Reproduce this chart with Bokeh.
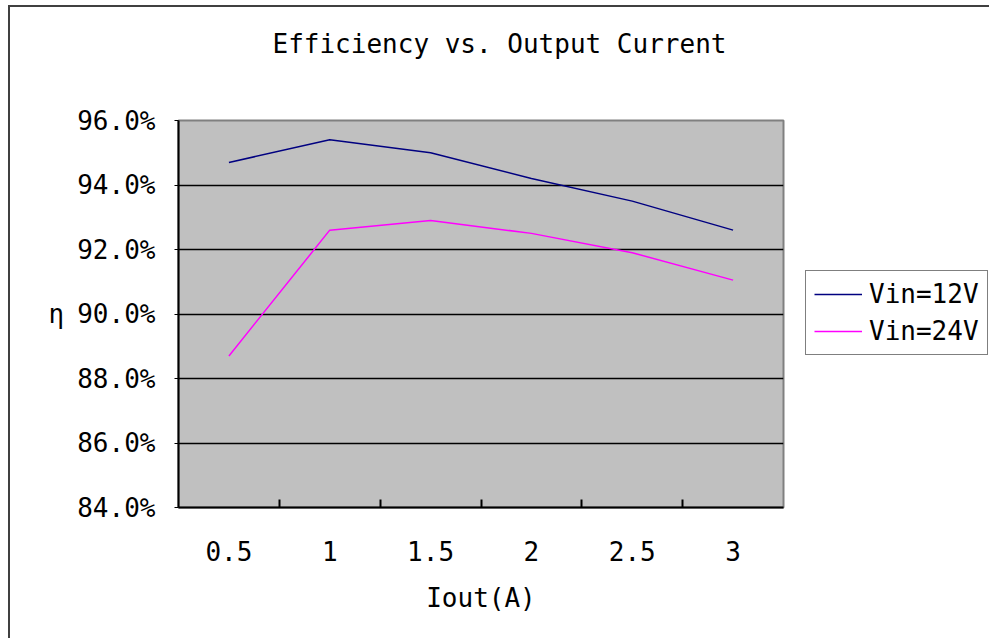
import numpy as np
from bokeh.plotting import figure
from bokeh.models import (Range1d, FixedTicker, PrintfTickFormatter, Legend, LegendItem)
from bokeh.embed import file_html
from bokeh.resources import INLINE

# ---- data ----
x_labels = ["0.5", "1", "1.5", "2", "2.5", "3"]
eff_12v = [94.7, 95.4, 95.0, 94.2, 93.5, 92.6]
eff_24v = [88.7, 92.6, 92.9, 92.5, 91.9, 91.05]
y_ticks = [84, 86, 88, 90, 92, 94, 96]
series_names = ["Vin=12V", "Vin=24V"]
title_text = "Efficiency vs. Output Current"

FONT = "DejaVu Sans Mono"

n = len(x_labels)
x_pos = list(np.arange(n) + 0.5)
boundaries = list(np.arange(1, n))

p = figure(frame_width=605, frame_height=387,
           min_border_left=168, min_border_right=206,
           min_border_top=113, min_border_bottom=131,
           x_range=Range1d(0, n), y_range=Range1d(y_ticks[0], y_ticks[-1]),
           output_backend="svg", toolbar_location=None,
           background_fill_color="#C0C0C0", border_fill_color="white",
           outline_line_color="#808080", outline_line_width=2)

p.styles = {"margin-left": "8px", "margin-top": "5px",
            "border-left": "2px solid #404040", "border-top": "2px solid #404040"}

# trailing blank lines only reserve vertical space above the frame
p.title.text = title_text + "\n\n"
p.title.align = "left"
p.title.offset = 94
p.title.vertical_align = "top"
p.title.standoff = 0
p.title.text_font = FONT
p.title.text_font_size = "26px"
p.title.text_font_style = "normal"
p.title.text_color = "#000000"

# x axis
xa = p.xaxis[0]
xa.ticker = FixedTicker(ticks=x_pos, minor_ticks=boundaries)
xa.major_label_overrides = {float(v): lab for v, lab in zip(x_pos, x_labels)}
xa.major_tick_in = 0
xa.major_tick_out = 0
xa.minor_tick_in = 8
xa.minor_tick_out = 0
xa.minor_tick_line_color = "black"
xa.minor_tick_line_width = 2
xa.axis_line_color = "black"
xa.axis_line_width = 2
xa.major_label_standoff = 33
xa.major_label_text_font = FONT
xa.major_label_text_font_size = "26px"
xa.major_label_text_color = "black"
xa.axis_label = "Iout(A)"
xa.axis_label_text_font = FONT
xa.axis_label_text_font_size = "26px"
xa.axis_label_text_font_style = "normal"
xa.axis_label_text_color = "black"
xa.axis_label_standoff = 19

# y axis
ya = p.yaxis[0]
ya.ticker = FixedTicker(ticks=y_ticks, minor_ticks=[])
ya.formatter = PrintfTickFormatter(format="%.1f%%")
ya.major_tick_in = 0
ya.major_tick_out = 4
ya.major_tick_line_color = "black"
ya.axis_line_color = "black"
ya.axis_line_width = 2
ya.major_label_standoff = 19
ya.major_label_text_font = FONT
ya.major_label_text_font_size = "26px"
ya.major_label_text_color = "black"
ya.axis_label = "η"
ya.axis_label_orientation = "horizontal"
ya.axis_label_text_font = FONT
ya.axis_label_text_font_size = "26px"
ya.axis_label_text_font_style = "normal"
ya.axis_label_text_color = "black"
ya.axis_label_standoff = 10

p.xgrid.grid_line_color = None
p.ygrid.ticker = FixedTicker(ticks=y_ticks)
p.ygrid.grid_line_color = "black"
p.ygrid.grid_line_width = 1.5

r1 = p.line(x_pos, eff_12v, line_color="#000080", line_width=1.5)
r2 = p.line(x_pos, eff_24v, line_color="#FF00FF", line_width=1.5)

legend = Legend(items=[LegendItem(label=series_names[0], renderers=[r1]),
                       LegendItem(label=series_names[1], renderers=[r2])],
                location=(22, 152), orientation="vertical",
                border_line_color="black", border_line_width=1.5,
                background_fill_color="white", background_fill_alpha=1,
                label_text_font=FONT, label_text_font_size="26px",
                label_text_color="black",
                glyph_width=48, glyph_height=20, label_height=30,
                label_standoff=7, spacing=7, padding=8, margin=0)
p.add_layout(legend, "right")

open("out.html", "w").write(file_html(p, INLINE))
